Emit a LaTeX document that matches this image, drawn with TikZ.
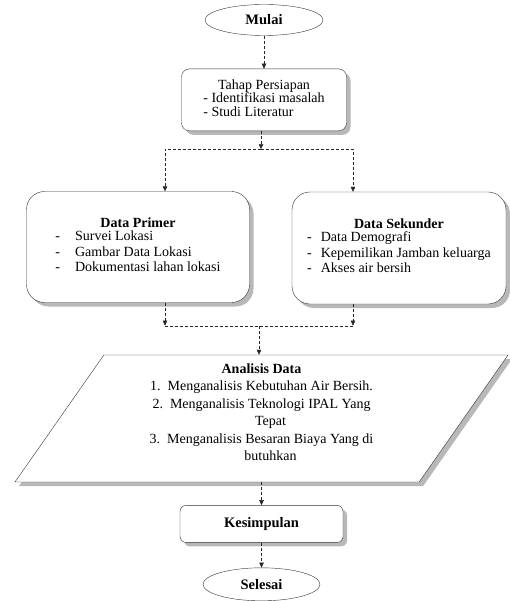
\documentclass[tikz,border=0pt]{standalone}
\usepackage{fontspec}
\setmainfont{Liberation Serif}
\usepackage{tikz}
\usetikzlibrary{positioning,arrows.meta,shapes.geometric,shadows,calc}

\begin{document}
\begin{tikzpicture}[
  x=1pt, y=1pt,
  font=\fontsize{14}{15.5}\selectfont,
  terminal/.style={draw=black!80, ellipse, fill=white, inner sep=1pt, font=\fontsize{14.5}{16}\selectfont\bfseries},
  stage/.style={draw=black!80, fill=white, align=center, inner sep=3pt,
    drop shadow={shadow xshift=4pt, shadow yshift=-4pt, fill=black!35, opacity=0.8}},
  analysis/.style={draw=black!80, fill=white, align=center, trapezium, trapezium left angle=52,
    trapezium right angle=128, trapezium stretches body, inner sep=2pt,
    drop shadow={shadow xshift=4pt, shadow yshift=-4pt, fill=black!35, opacity=0.8}},
  flow/.style={-{Triangle[length=5pt,width=4.5pt]}, dash pattern=on 3pt off 2pt, black!85},
  flowline/.style={dash pattern=on 3pt off 2pt, black!85}
]
\useasboundingbox (0,0) rectangle (510,-601);

\node[terminal, minimum width=118pt, minimum height=31pt] (mulai) at (264,-20) {Mulai};
\node[stage, rounded corners=8pt, minimum width=165pt, minimum height=62pt,
  font=\fontsize{14}{13.8}\selectfont, below=33pt of mulai] (persiapan)
  {Tahap Persiapan\\[-1pt]
   \begin{tabular}{@{}l@{}}- Identifikasi masalah\\- Studi Literatur\end{tabular}};

\node[stage, rounded corners=18pt, minimum width=223pt, minimum height=111pt] (primer) at (138,-247)
  {\textbf{Data Primer}\\[1pt]
   \begin{tabular}{@{}l@{\hspace{15pt}}l@{}}
   - & Survei Lokasi\\
   - & Gambar Data Lokasi\\
   - & Dokumentasi lahan lokasi
   \end{tabular}};
\node[stage, rounded corners=18pt, minimum width=214pt, minimum height=112pt] (sekunder) at (399,-248)
  {\textbf{Data Sekunder}\\[1pt]
   \begin{tabular}{@{}l@{\hspace{9pt}}l@{}}
   - & Data Demografi\\
   - & Kepemilikan Jamban keluarga\\
   - & Akses air bersih
   \end{tabular}};

\node[analysis, minimum width=493pt, minimum height=127pt, font=\fontsize{14}{17.5}\selectfont] (analisis) at (261.5,-418.5)
  {\textbf{Analisis Data}\\
   1.\ \ Menganalisis Kebutuhan Air Bersih.\\
   2.\ \ Menganalisis Teknologi IPAL Yang\\
   \hspace*{18pt}Tepat\\
   3.\ \ Menganalisis Besaran Biaya Yang di\\
   \hspace*{18pt}butuhkan\\[-5pt]\mbox{}};

\node[stage, rounded corners=6pt, minimum width=163pt, minimum height=37pt, font=\fontsize{14.5}{16}\selectfont\bfseries,
  below=23pt of analisis] (kesimpulan) {Kesimpulan};
\node[terminal, minimum width=117pt, minimum height=33pt, below=25pt of kesimpulan] (selesai) {Selesai};

% branch to the two data sources
\coordinate (split) at ($(persiapan.south)+(-3,-18)$);
\draw[flow] (mulai) -- (mulai |- persiapan.north);
\draw[flow] (split |- persiapan.south) -- (split);
\draw[flow] (split) -| ([xshift=27pt]primer.north);
\draw[flow] (split) -| ([xshift=-46pt]sekunder.north);

% join again before the analysis
\coordinate (mergeL) at ($(primer.south)+(27,-23)$);
\coordinate (mergeR) at (mergeL -| {$(sekunder.south)+(-46,0)$});
\coordinate (merge) at ($(mergeL)!0.5!(mergeR)$);
\draw[flow] ([xshift=27pt]primer.south) -- (mergeL);
\draw[flow] ([xshift=-46pt]sekunder.south) -- (mergeR);
\draw[flowline] (mergeL) -- (mergeR);
\draw[flow] (merge) -- (merge |- analisis.north);

\draw[flow] (analisis.south) -- (kesimpulan);
\draw[flow] (kesimpulan) -- (selesai);
\end{tikzpicture}
\end{document}
